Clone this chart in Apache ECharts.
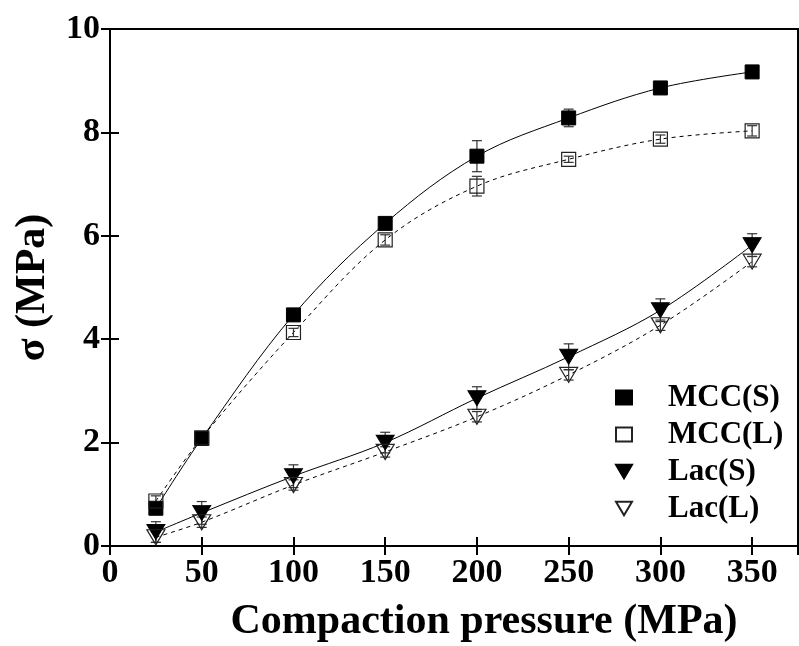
<!DOCTYPE html>
<html>
<head>
<meta charset="utf-8">
<script src="https://cdn.jsdelivr.net/npm/echarts@6/dist/echarts.min.js"></script>
<style>
  html, body { margin: 0; padding: 0; background: #fff; }
  #chart { width: 799px; height: 646px; }
</style>
</head>
<body>
<div id="chart"></div>
<script>
// Compaction pressure (MPa)
const pressure = [25, 50, 100, 150, 200, 250, 300, 350];

// Tensile strength sigma (MPa) and standard deviations
const mccS    = [0.73, 2.08, 4.47, 6.24, 7.54, 8.28, 8.86, 9.17];
const mccSErr = [0.10, 0.08, 0.08, 0.08, 0.30, 0.17, 0.06, 0.06];
const mccL    = [0.87, 2.09, 4.13, 5.92, 6.96, 7.48, 7.87, 8.03];
const mccLErr = [0.10, 0.08, 0.08, 0.10, 0.19, 0.06, 0.08, 0.10];
const lacS    = [0.27, 0.64, 1.35, 2.00, 2.86, 3.66, 4.56, 5.82];
const lacSErr = [0.20, 0.22, 0.22, 0.20, 0.22, 0.25, 0.22, 0.22];
const lacL    = [0.17, 0.46, 1.18, 1.82, 2.50, 3.31, 4.27, 5.50];
const lacLErr = [0.10, 0.10, 0.10, 0.10, 0.10, 0.10, 0.10, 0.10];

const seriesNames = ['MCC(S)', 'MCC(L)', 'Lac(S)', 'Lac(L)'];

const FONT = '"Liberation Serif", "Times New Roman", serif';
const DOWN_TRIANGLE = 'path://M0,0 L20,0 L10,17 Z';

const pairs = (ys) => pressure.map((x, i) => [x, ys[i]]);
const errs = (ys, es) => pressure.map((x, i) => [x, ys[i], es[i]]);

function errorBarItem(params, api) {
  const x = api.value(0), y = api.value(1), e = api.value(2);
  const hi = api.coord([x, y + e]);
  const lo = api.coord([x, y - e]);
  const cap = 5;
  const style = { stroke: '#333', lineWidth: 1.2 };
  return {
    type: 'group',
    children: [
      { type: 'line', shape: { x1: hi[0], y1: hi[1], x2: lo[0], y2: lo[1] }, style },
      { type: 'line', shape: { x1: hi[0] - cap, y1: hi[1], x2: hi[0] + cap, y2: hi[1] }, style },
      { type: 'line', shape: { x1: lo[0] - cap, y1: lo[1], x2: lo[0] + cap, y2: lo[1] }, style }
    ]
  };
}

function fitLine(ys, dashed) {
  return {
    type: 'line', data: pairs(ys), smooth: 0.35, showSymbol: false,
    silent: true, z: 2,
    lineStyle: { color: '#000', width: 1, type: dashed ? [4, 4] : 'solid' }
  };
}

function errorSeries(ys, es) {
  return { type: 'custom', data: errs(ys, es), renderItem: errorBarItem, z: 3, silent: true };
}

function markerSeries(name, ys, symbol, filled) {
  const tri = symbol === 'triangle';
  return {
    name, type: 'scatter', data: pairs(ys), z: 5,
    symbol: tri ? DOWN_TRIANGLE : 'rect',
    symbolSize: tri ? [18, 15] : 14,
    itemStyle: filled
      ? { color: '#000', borderColor: '#000', borderWidth: 1, opacity: 1 }
      : { color: 'rgba(255,255,255,0)', borderColor: '#222', borderWidth: 1.2, opacity: 1 }
  };
}

const chart = echarts.init(document.getElementById('chart'), null, { renderer: 'canvas' });

const tickLabel = { fontFamily: FONT, fontWeight: 'bold', fontSize: 34, color: '#000' };
const titleStyle = { fontFamily: FONT, fontWeight: 'bold', fontSize: 42, color: '#000' };
const frameLine = { show: true, lineStyle: { color: '#000', width: 2 } };
const frameTick = { inside: true, length: 9, lineStyle: { color: '#000', width: 2 } };

chart.setOption({
  animation: false,
  backgroundColor: '#fff',
  grid: {
    left: 110, right: 1, top: 29, bottom: 100,
    containLabel: false, outerBoundsMode: 'none',
    show: true, borderColor: '#000', borderWidth: 2
  },
  xAxis: [
    {
      type: 'value', min: 0, max: 375, interval: 50,
      name: 'Compaction pressure (MPa)', nameLocation: 'middle', nameGap: 55,
      nameTextStyle: Object.assign({ padding: [0, 0, 0, 60] }, titleStyle),
      axisLine: frameLine, axisTick: frameTick,
      axisLabel: Object.assign({ margin: 10, showMaxLabel: false }, tickLabel),
      splitLine: { show: false }
    },
    {
      type: 'value', min: 0, max: 375, interval: 50, position: 'top',
      axisLine: frameLine, axisTick: frameTick,
      axisLabel: { show: false }, splitLine: { show: false }
    }
  ],
  yAxis: [
    {
      type: 'value', min: 0, max: 10, interval: 2,
      name: 'σ (MPa)', nameLocation: 'middle', nameGap: 56,
      nameTextStyle: titleStyle,
      axisLine: frameLine, axisTick: frameTick,
      axisLabel: Object.assign({ margin: 10 }, tickLabel),
      splitLine: { show: false }
    },
    {
      type: 'value', min: 0, max: 10, interval: 2, position: 'right',
      axisLine: frameLine, axisTick: frameTick,
      axisLabel: { show: false }, splitLine: { show: false }
    }
  ],
  legend: {
    data: [
      { name: 'MCC(S)', icon: 'rect' },
      { name: 'MCC(L)', icon: 'rect' },
      { name: 'Lac(S)', icon: DOWN_TRIANGLE },
      { name: 'Lac(L)', icon: DOWN_TRIANGLE }
    ],
    orient: 'vertical', left: 610, top: 377,
    itemWidth: 16, itemHeight: 14, itemGap: 6,
    textStyle: { fontFamily: FONT, fontWeight: 'bold', fontSize: 31, color: '#000', padding: [0, 0, 0, 31] },
    selectedMode: false
  },
  series: [
    fitLine(mccS, false), fitLine(mccL, true), fitLine(lacS, false), fitLine(lacL, true),
    errorSeries(mccS, mccSErr), errorSeries(mccL, mccLErr),
    errorSeries(lacS, lacSErr), errorSeries(lacL, lacLErr),
    markerSeries('MCC(S)', mccS, 'rect', true),
    markerSeries('MCC(L)', mccL, 'rect', false),
    markerSeries('Lac(S)', lacS, 'triangle', true),
    markerSeries('Lac(L)', lacL, 'triangle', false)
  ]
});
</script>
</body>
</html>
